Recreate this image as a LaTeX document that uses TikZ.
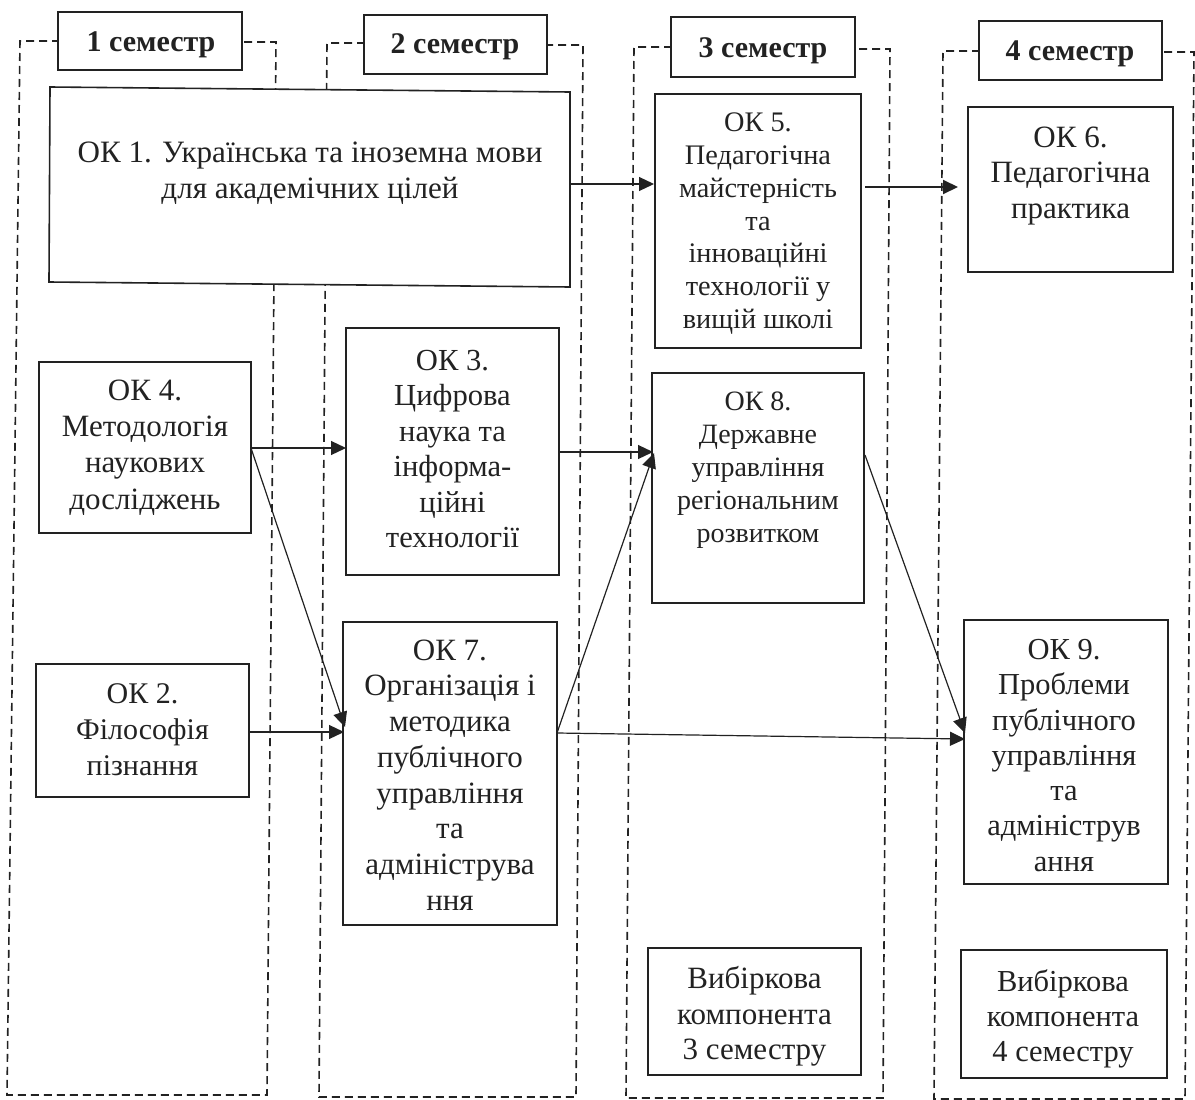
\documentclass[tikz,border=0pt]{standalone}
\usepackage{fontspec}
\setmainfont{Liberation Serif}
\usetikzlibrary{arrows.meta,calc}
\definecolor{ink}{HTML}{222222}
\tikzset{
  boxline/.style={draw=ink,line width=1.6pt,fill=white},
  headtext/.style={text=ink,font=\bfseries\fontsize{30}{34}\selectfont,inner sep=0pt,anchor=base},
  frame/.style={draw=ink,line width=1.6pt,dash pattern=on 8pt off 5pt},
  arr/.style={draw=ink,line width=1.2pt,-{Triangle[length=15pt,width=14pt]}}
}
\newcommand{\bx}[9]{% name x1 y1 x2 y2 text offset size leading
  \path[boxline] (#2,-#3) rectangle (#4,-#5);
  \coordinate (#1) at ({(#2+#4)/2},-#3);
  \node[align=center,text=ink,font=\fontsize{#8}{#9}\selectfont,anchor=north,inner sep=0pt] (#1t) at ($(#1)+(#7)$) {#6};
}
\begin{document}
\begin{tikzpicture}[x=1pt,y=1pt]
\useasboundingbox (0,0) rectangle (1195,-1100);
% frames
\draw[frame] (60,-41) -- (20,-41) -- (7,-1095) -- (267,-1095) -- (276,-42) -- (243,-42);
\draw[frame] (365,-43) -- (327,-43) -- (319,-1097) -- (576,-1097) -- (583,-45) -- (548,-45);
\draw[frame] (672,-47) -- (634,-47) -- (626,-1098) -- (883,-1098) -- (890,-49) -- (856,-49);
\draw[frame] (980,-51) -- (943,-51) -- (934,-1099) -- (1185,-1099) -- (1194,-52) -- (1163,-52);
% heads
\path[boxline] (58,-12) rectangle (242,-70) coordinate (h1);
\path[boxline] (364,-15) rectangle (547,-74) coordinate (h2);
\path[boxline] (671,-17) rectangle (855,-77) coordinate (h3);
\path[boxline] (979,-21) rectangle (1162,-80) coordinate (h4);
\node[headtext] (h1t) at (151,-51) {1 семестр};
\node[headtext] (h2t) at (455,-53) {2 семестр};
\node[headtext] (h3t) at (763,-57) {3 семестр};
\node[headtext] (h4t) at (1070,-60) {4 семестр};
% boxes
\path[boxline] (50,-87) -- (570,-92) -- (570,-287) -- (49,-282) -- cycle;
\coordinate (ok1) at (310,-87);
\node[align=center,text=ink,font=\fontsize{31.1}{36}\selectfont,anchor=north,inner sep=0pt] (ok1t) at ($(ok1)+(0,-54.5)$) {ОК 1. Українська та іноземна мови\\для академічних цілей};
\bx{ok5}{655}{94}{861}{348}{ОК 5.\\Педагогічна\\майстерність\\та\\інноваційні\\технології у\\вищій школі}{0,-19}{28.3}{32.7}
\bx{ok6}{968}{107}{1173}{272}{ОК 6.\\Педагогічна\\практика}{0,-19.5}{31}{35.5}
\bx{ok4}{39}{362}{251}{533}{ОК 4.\\Методологія\\наукових\\досліджень}{0,-17.5}{31}{36.3}
\bx{ok3}{346}{328}{559}{575}{ОК 3.\\Цифрова\\наука та\\інформа-\\ційні\\технології}{0,-22}{30.6}{35.4}
\bx{ok8}{652}{373}{864}{603}{ОК 8.\\Державне\\управління\\регіональним\\розвитком}{0,-18.5}{28}{33}
\bx{ok2}{36}{664}{249}{797}{ОК 2.\\Філософія\\пізнання}{0,-19}{30}{36}
\bx{ok7}{343}{622}{557}{925}{ОК 7.\\Організація і\\методика\\публічного\\управління\\та\\адмініструва\\ння}{0,-17.5}{31}{35.7}
\bx{ok9}{964}{620}{1168}{884}{ОК 9.\\Проблеми\\публічного\\управління\\та\\адмініструв\\ання}{-2,-19}{30.5}{35.3}
\bx{ve3}{648}{948}{861}{1075}{Вибіркова\\компонента\\3 семестру}{0,-18.5}{31}{35.5}
\bx{ve4}{961}{950}{1167}{1078}{Вибіркова\\компонента\\4 семестру}{-1,-19.5}{30.5}{35}
% anchors
\coordinate (a1) at (570,-184); \coordinate (a5) at (654,-184);
\coordinate (b5) at (865,-187); \coordinate (b6) at (958,-187);
\coordinate (c4) at (251,-448); \coordinate (c3) at (346,-448);
\coordinate (d3) at (559,-452); \coordinate (d8) at (653,-452);
\coordinate (e4) at (251,-448); \coordinate (e7) at (345,-727);
\coordinate (f2) at (249,-732); \coordinate (f7) at (344,-732);
\coordinate (g7) at (557,-733); \coordinate (g9) at (965,-739);
\coordinate (h7) at (557,-733); \coordinate (h8) at (654,-453);
\coordinate (i8) at (865,-455); \coordinate (i9) at (965,-733);
\draw[arr] (a1) -- (a5);
\draw[arr,line width=2pt] (b5) -- (b6);
\draw[arr] (c4) -- (c3);
\draw[arr] (d3) -- (d8);
\draw[arr] (e4) -- (e7);
\draw[arr] (f2) -- (f7);
\draw[arr] (g7) -- (g9);
\draw[arr] (h7) -- (h8);
\draw[arr] (i8) -- (i9);
\end{tikzpicture}
\end{document}
